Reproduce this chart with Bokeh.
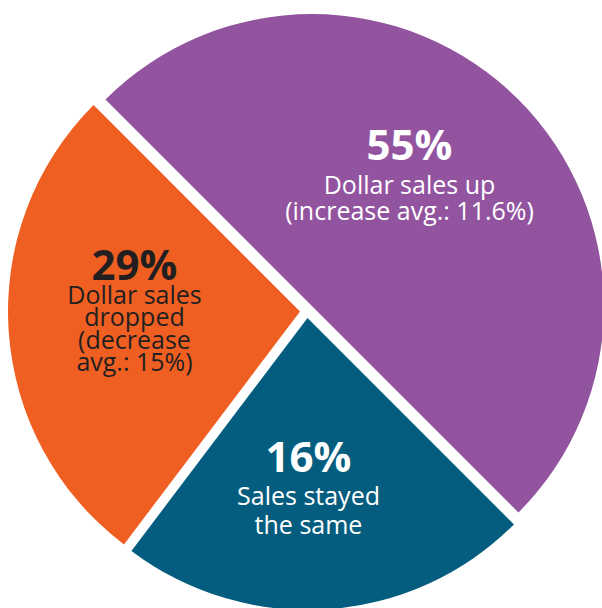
import math
from bokeh.plotting import figure
from bokeh.models import Range1d, ColumnDataSource
from bokeh.core.properties import value
from bokeh.embed import file_html
from bokeh.resources import INLINE

# ---- data ----
categories = ["Dollar sales up", "Dollar sales dropped", "Sales stayed the same"]
percent_values = [55, 29, 16]
# slice sizes as they are drawn in the picture (share of the full circle, %)
drawn_share = [50.0, 27.2, 22.8]
descriptions = [
    ["Dollar sales up", "(increase avg.: 11.6%)"],
    ["Dollar sales", "dropped", "(decrease", "avg.: 15%)"],
    ["Sales stayed", "the same"],
]

# ---- styles / layout ----
colors = ["#92549F", "#F05F22", "#045D7E"]
text_colors = ["#FFFFFF", "#231F20", "#FFFFFF"]
FONT = "Open Sans"
PCT_SIZE = 42
DESC_SIZE = 25
BASELINE_FIX = 0.35  # em, correction of rendered baseline
START_DEG = -45.0
RADIUS = 292
EXPLODE = 7
W, H = 602, 608
BASE = (306.5, H - 310.5)
# label anchors in page pixels: x centre, baseline of percent line, baselines of the description lines
label_x = [409, 134, 308]
pct_baseline = [158, 278, 470]
desc_baselines = [[192, 218], [302, 324, 347, 369], [503, 532]]

p = figure(width=W, height=H, x_range=Range1d(0, W), y_range=Range1d(0, H),
           output_backend="svg", toolbar_location=None, min_border=0,
           x_axis_type=None, y_axis_type=None)
p.grid.visible = False
p.outline_line_color = None
p.background_fill_color = "white"
p.border_fill_color = "white"

# wedges
xs, ys, starts, ends = [], [], [], []
a = math.radians(START_DEG)
for share in drawn_share:
    span = 2 * math.pi * share / 100.0
    mid = a + span / 2
    xs.append(BASE[0] + EXPLODE * math.cos(mid))
    ys.append(BASE[1] + EXPLODE * math.sin(mid))
    starts.append(a)
    ends.append(a + span)
    a += span

src = ColumnDataSource(dict(x=xs, y=ys, start=starts, end=ends, color=colors, cat=categories))
p.wedge(x="x", y="y", radius=RADIUS, start_angle="start", end_angle="end",
        fill_color="color", line_color=None, source=src)

# percent labels
pct_src = ColumnDataSource(dict(
    x=label_x, y=[H - b + BASELINE_FIX * PCT_SIZE for b in pct_baseline],
    text=[f"{v}%" for v in percent_values], color=text_colors))
p.text(x="x", y="y", text="text", text_color="color", source=pct_src,
       text_align="center", text_baseline="alphabetic",
       text_font=value(FONT), text_font_size=value(f"{PCT_SIZE}px"), text_font_style="bold")

# description labels
dx, dy, dt, dc = [], [], [], []
for i, lines in enumerate(descriptions):
    for line, b in zip(lines, desc_baselines[i]):
        dx.append(label_x[i])
        dy.append(H - b + BASELINE_FIX * DESC_SIZE)
        dt.append(line)
        dc.append(text_colors[i])
desc_src = ColumnDataSource(dict(x=dx, y=dy, text=dt, color=dc))
p.text(x="x", y="y", text="text", text_color="color", source=desc_src,
       text_align="center", text_baseline="alphabetic",
       text_font=value(FONT), text_font_size=value(f"{DESC_SIZE}px"))

open("out.html", "w").write(file_html(p, INLINE))
